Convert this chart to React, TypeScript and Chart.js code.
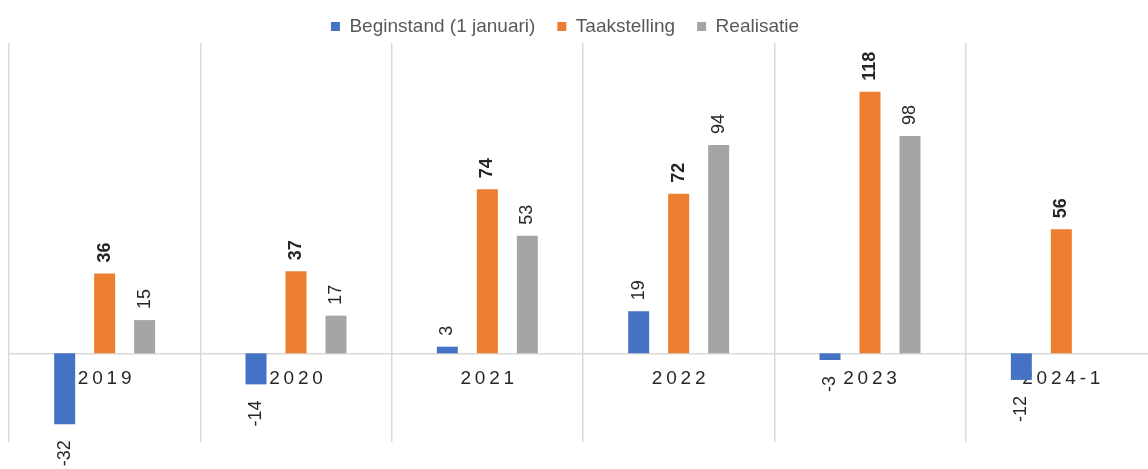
import React, { useEffect, useRef } from "react";
import { Chart, registerables } from "chart.js";

Chart.register(...registerables);

const categories = ["2019", "2020", "2021", "2022", "2023", "2024-1"];
const beginstand = [-32, -14, 3, 19, -3, -12];
const taakstelling = [36, 37, 74, 72, 118, 56];
const realisatie = [15, 17, 53, 94, 98, null];
const seriesNames = ["Beginstand (1 januari)", "Taakstelling", "Realisatie"];

const FONT = '"Liberation Sans", Arial, sans-serif';

const valueLabelPlugin = {
  id: "valueLabels",
  afterDatasetsDraw(chart: any) {
    const ctx = chart.ctx;
    chart.data.datasets.forEach((ds: any, di: number) => {
      const meta = chart.getDatasetMeta(di);
      meta.data.forEach((bar: any, i: number) => {
        const v = ds.data[i];
        if (v === null || v === undefined) return;
        const { x, y } = bar.getProps(["x", "y"], true);
        ctx.save();
        ctx.font = `${ds.labelBold ? "bold " : ""}18px ${FONT}`;
        ctx.fillStyle = "#262626";
        ctx.textBaseline = "middle";
        if (v >= 0) {
          ctx.translate(x, y - 11);
          ctx.rotate(-Math.PI / 2);
          ctx.textAlign = "left";
        } else {
          ctx.translate(x, y + 16);
          ctx.rotate(-Math.PI / 2);
          ctx.textAlign = "right";
        }
        ctx.fillText(String(v), 0, 0);
        ctx.restore();
      });
    });
  },
};

const legendShiftPlugin = {
  id: "legendShift",
  afterLayout(chart: any) {
    const lg = chart.legend;
    if (lg) {
      lg.left -= 18;
      lg.right -= 18;
    }
  },
};

export default function App() {
  const ref = useRef<HTMLCanvasElement | null>(null);

  useEffect(() => {
    if (!ref.current) return;
    const chart = new Chart(ref.current, {
      type: "bar",
      data: {
        labels: categories,
        datasets: [
          {
            label: seriesNames[0],
            data: beginstand,
            backgroundColor: "#4472C4",
            labelBold: false,
          } as any,
          {
            label: seriesNames[1],
            data: taakstelling,
            backgroundColor: "#ED7D31",
            labelBold: true,
          } as any,
          {
            label: seriesNames[2],
            data: realisatie,
            backgroundColor: "#A5A5A5",
            labelBold: false,
          } as any,
        ],
      },
      options: {
        animation: false,
        responsive: true,
        maintainAspectRatio: false,
        datasets: {
          bar: {
            categoryPercentage: 0.627,
            barPercentage: 0.525,
          },
        },
        layout: {
          padding: { left: 9, right: 3, top: -5, bottom: 27 },
        },
        plugins: {
          tooltip: { enabled: false },
          legend: {
            position: "top",
            maxHeight: 48,
            labels: {
              boxWidth: 9,
              boxHeight: 9,
              padding: 22,
              color: "#595959",
              font: { size: 19, family: FONT },
            },
          },
        },
        scales: {
          x: {
            position: { y: 0 } as any,
            grid: {
              display: true,
              offset: true,
              drawTicks: false,
              color: "#d9d9d9",
              lineWidth: 1.5,
            },
            border: { display: true, color: "#d9d9d9", width: 1.5 },
            ticks: {
              padding: 14,
              autoSkip: false,
              maxRotation: 0,
              color: "#262626",
              font: { size: 19, family: FONT },
              callback: (_v: any, i: number) => categories[i].split("").join("\u2009"),
            },
          },
          y: {
            display: false,
            min: -40,
            max: 140,
          },
        },
      },
      plugins: [valueLabelPlugin, legendShiftPlugin],
    });
    return () => chart.destroy();
  }, []);

  return (
    <div
      style={{
        position: "fixed",
        left: 0,
        top: 0,
        width: 1160,
        height: 469,
        background: "#fff",
      }}
    >
      <canvas ref={ref} />
    </div>
  );
}
